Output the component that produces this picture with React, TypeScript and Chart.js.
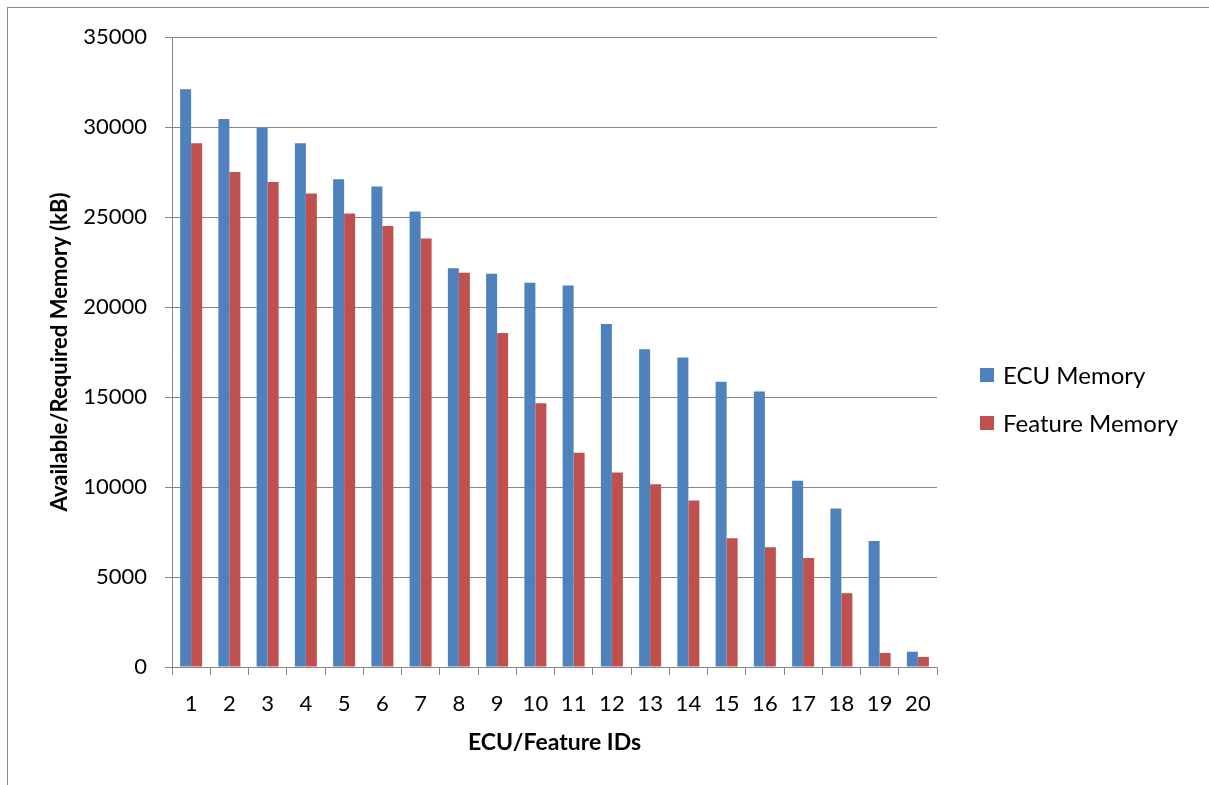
import React, { useEffect, useRef } from "react";
import { Chart, registerables } from "chart.js";

Chart.register(...registerables);

const categories = ["1", "2", "3", "4", "5", "6", "7", "8", "9", "10", "11", "12", "13", "14", "15", "16", "17", "18", "19", "20"];
const ecuMemory = [32100, 30450, 29950, 29100, 27100, 26700, 25300, 22150, 21850, 21350, 21200, 19050, 17650, 17200, 15850, 15300, 10350, 8800, 7000, 850];
const featureMemory = [29100, 27500, 26950, 26300, 25200, 24500, 23800, 21900, 18550, 14650, 11900, 10800, 10150, 9250, 7150, 6650, 6050, 4100, 780, 560];
const seriesLabels = ["ECU Memory", "Feature Memory"];
const seriesColors = ["#4F81BD", "#C0504D"];
const yTicks = [0, 5000, 10000, 15000, 20000, 25000, 30000, 35000];
const xTitle = "ECU/Feature IDs";
const yTitle = "Available/Required Memory (kB)";

const FONT = "Lato, 'Open Sans', sans-serif";
const GRID = "#878787";

const legendPlugin = {
  id: "customLegend",
  afterDraw(chart: any) {
    const ctx = chart.ctx;
    const rows = [375, 423];
    ctx.save();
    chart.data.datasets.forEach((ds: any, i: number) => {
      const y = rows[i];
      ctx.fillStyle = ds.backgroundColor;
      ctx.fillRect(980, y - 7, 14, 14);
      ctx.fillStyle = "#000";
      ctx.font = `24px ${FONT}`;
      ctx.textBaseline = "middle";
      ctx.textAlign = "left";
      ctx.fillText(ds.label, 1003, y + 1);
    });
    ctx.restore();
  },
};

export default function App() {
  const ref = useRef<HTMLCanvasElement>(null);
  useEffect(() => {
    if (!ref.current) return;
    const chart = new Chart(ref.current, {
      type: "bar",
      data: {
        labels: categories,
        datasets: [
          { label: seriesLabels[0], data: ecuMemory, backgroundColor: seriesColors[0], categoryPercentage: 0.575, barPercentage: 1 },
          { label: seriesLabels[1], data: featureMemory, backgroundColor: seriesColors[1], categoryPercentage: 0.575, barPercentage: 1 },
        ],
      },
      options: {
        responsive: false,
        animation: false,
        layout: { padding: { left: 0, top: 37, right: 272, bottom: 0 } },
        plugins: { legend: { display: false }, tooltip: { enabled: false } },
        scales: {
          x: {
            afterFit: (s: any) => { s.height = 118; },
            grid: { offset: true, drawOnChartArea: false, drawTicks: true, tickLength: 8, color: GRID, lineWidth: 1 },
            border: { display: true, color: GRID, width: 1 },
            ticks: { color: "#000", font: { family: FONT, size: 22 }, padding: 16, maxRotation: 0, autoSkip: false },
            title: { display: true, text: xTitle, color: "#000", font: { family: FONT, size: 23, weight: "bold" }, padding: { top: 0, bottom: 29 } },
          },
          y: {
            min: 0,
            max: 35000,
            afterFit: (s: any) => { s.width = 172; },
            afterBuildTicks: (s: any) => { s.ticks = yTicks.map((v) => ({ value: v })); },
            grid: { drawOnChartArea: true, drawTicks: true, tickLength: 7, color: GRID, lineWidth: 1 },
            border: { display: true, color: GRID, width: 1 },
            ticks: { color: "#000", font: { family: FONT, size: 22 }, padding: 18, callback: (v: any) => String(v) },
            title: { display: true, text: yTitle, color: "#000", font: { family: FONT, size: 22, weight: "bold" }, padding: { top: 47, bottom: 0 } },
          },
        },
      },
      plugins: [legendPlugin],
    });
    return () => chart.destroy();
  }, []);
  return (
    <div style={{ position: "fixed", left: 0, top: 0, width: 1209, height: 785, overflow: "hidden", background: "#fff" }}>
      <canvas ref={ref} width={1209} height={785} style={{ position: "absolute", left: 0, top: 0 }} />
      <div style={{ position: "absolute", left: 7, top: 7, width: 1400, height: 1000, borderLeft: "1px solid #8a8a8a", borderTop: "1px solid #8a8a8a", pointerEvents: "none" }} />
    </div>
  );
}
